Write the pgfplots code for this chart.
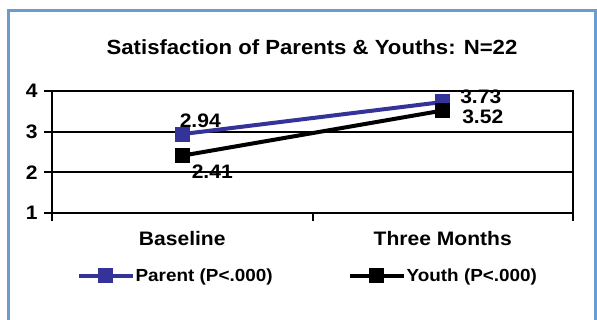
\documentclass[border=0pt]{standalone}
\usepackage{pgfplots}
\pgfplotsset{compat=1.18}
\usepackage{fontspec}
\setmainfont[FakeStretch=1.08]{Liberation Sans}
\definecolor{parentc}{HTML}{333399}
\definecolor{framec}{HTML}{6C9BD2}
\newcommand\lblfont{\fontsize{19.5bp}{22bp}\selectfont\bfseries}
\begin{document}
\begin{tikzpicture}[x=1bp,y=1bp]
\begin{axis}[at={(52bp,106bp)}, anchor=south west, scale only axis,
  width=521bp, height=122bp,
  xmin=0.5, xmax=2.5, ymin=1, ymax=4, ytick={1,2,3,4},
  xtick={0.5,1.5,2.5}, xticklabels={},
  extra x ticks={1,2}, extra x tick labels={Baseline,Three Months},
  extra x tick style={major tick length=0pt, grid=none},
  xtick pos=left, ytick pos=left, tick align=outside,
  major tick length=8bp,
  tick style={black, line width=2bp},
  ymajorgrids, grid style={black, line width=2.2bp},
  axis line style={black, line width=2.5bp},
  /pgf/number format/assume math mode=true,
  ticklabel style={font=\lblfont},
  yticklabel style={xshift=-3bp},
  xticklabel style={yshift=-15bp},
  clip=false,
  legend columns=2,
  legend style={at={(axis description cs:0.49,-0.516)}, anchor=center, draw=none,
    font=\fontsize{17.5bp}{20bp}\selectfont\bfseries,
    /tikz/every even column/.append style={column sep=74bp},
    nodes={inner xsep=1bp}},
  legend image code/.code={\draw[mark repeat=2,mark phase=2,#1] plot coordinates {(0bp,0bp) (27bp,0bp) (54bp,0bp)};},
]
\addplot[parentc, line width=4bp, mark=square*, mark size=7bp, mark options={solid, fill=parentc, line width=0pt}]
  coordinates {(1,2.94) (2,3.73)};
\addlegendentry{Parent (P<.000)}
\addplot[black, line width=4bp, mark=square*, mark size=7bp, mark options={solid, fill=black, line width=0pt}]
  coordinates {(1,2.41) (2,3.52)};
\addlegendentry{Youth (P<.000)}
\node[font=\lblfont] at (axis cs:1,2.94) [xshift=18bp, yshift=13bp] {2.94};
\node[font=\lblfont] at (axis cs:1,2.41) [xshift=30bp, yshift=-16bp] {2.41};
\node[font=\lblfont] at (axis cs:2,3.73) [xshift=38bp, yshift=5bp] {3.73};
\node[font=\lblfont] at (axis cs:2,3.52) [xshift=40bp, yshift=-6bp] {3.52};
\end{axis}
\draw[framec, line width=3bp] (8,-5) -- (8,308) -- (595,308) -- (595,-5);
\node[font=\fontsize{20.5bp}{24bp}\selectfont\bfseries] at (312,272) {Satisfaction of Parents \& Youths: N=22};
\pgfresetboundingbox
\path[use as bounding box] (0,0) rectangle (597,319);
\end{tikzpicture}
\end{document}
